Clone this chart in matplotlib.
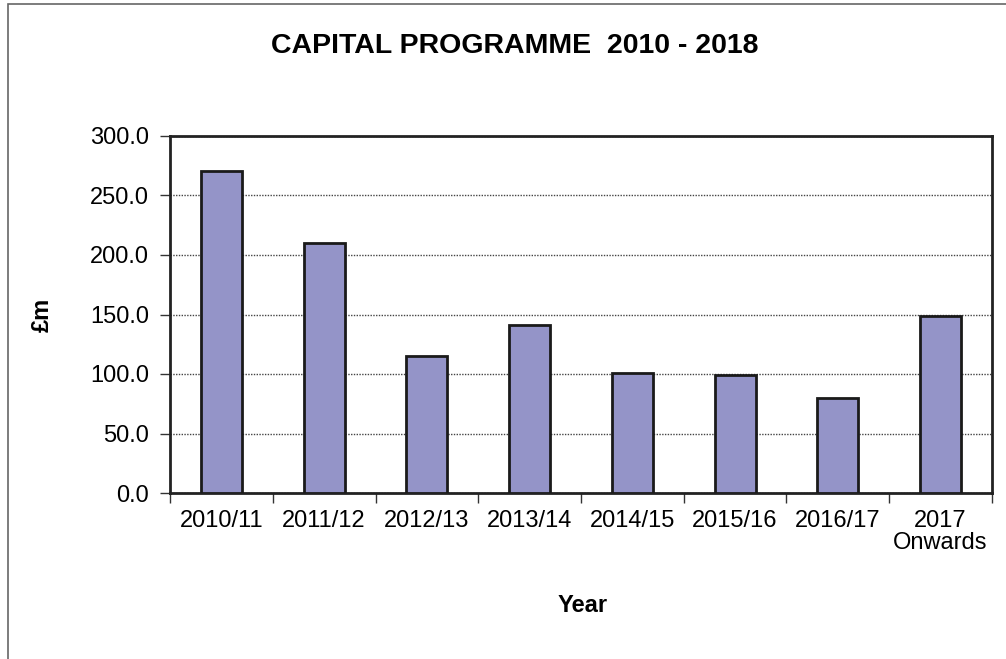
import matplotlib
matplotlib.use("Agg")
import matplotlib.pyplot as plt
from matplotlib.patches import Rectangle
import numpy as np

plt.rcParams["font.family"] = ["Liberation Sans", "DejaVu Sans"]

periods = ["2010/11", "2011/12", "2012/13", "2013/14", "2014/15",
           "2015/16", "2016/17", "2017\nOnwards"]
spend = [270.5, 210.5, 115.5, 141.0, 101.0, 99.5, 80.0, 149.0]
y_ticks = [0, 50, 100, 150, 200, 250, 300]

W, H = 1006, 659
fig = plt.figure(figsize=(W / 100, H / 100), dpi=100)

# outer chart frame (runs off the right and bottom edges)
fig.patches.append(Rectangle((8 / W, -0.1), 1.2, 1.1 - 4 / H,
                             transform=fig.transFigure, fill=False,
                             edgecolor="#666666", linewidth=1.2))

ax = fig.add_axes([170 / W, 1 - 493 / H, 822 / W, 357 / H])
x = np.arange(len(periods))
ax.bar(x, spend, width=0.4, color="#9494c8", edgecolor="#1a1a1a",
       linewidth=2, zorder=3)

ax.set_xlim(-0.5, len(periods) - 0.5)
ax.set_ylim(0, 300)
ax.set_yticks(y_ticks)
ax.set_yticklabels([f"{v:.1f}" for v in y_ticks], fontsize=17)
ax.set_xticks(x)
ax.set_xticklabels(periods, fontsize=17, linespacing=1.0)
ax.set_xticks(np.arange(-0.5, len(periods)), minor=True)
ax.tick_params(axis="x", which="major", length=0, pad=12)
ax.tick_params(axis="x", which="minor", length=7, width=1, direction="out",
               color="#333333")
ax.tick_params(axis="y", length=7, width=1, direction="out", pad=8,
               color="#333333")
ax.yaxis.grid(True, linestyle=(0, (1, 1)), color="#444444", linewidth=1,
              zorder=0)
for s in ax.spines.values():
    s.set_linewidth(2)
    s.set_color("#222222")

fig.text(515 / W, 1 - 46 / H, "CAPITAL PROGRAMME  2010 - 2018",
         ha="center", va="center", fontsize=20.5, fontweight="bold")
fig.text(42 / W, 1 - 315 / H, "£m", ha="center", va="center",
         rotation=90, fontsize=17, fontweight="bold")
fig.text(583 / W, 1 - 605 / H, "Year", ha="center", va="center",
         fontsize=17, fontweight="bold")

fig.savefig("out.png", dpi=100)
